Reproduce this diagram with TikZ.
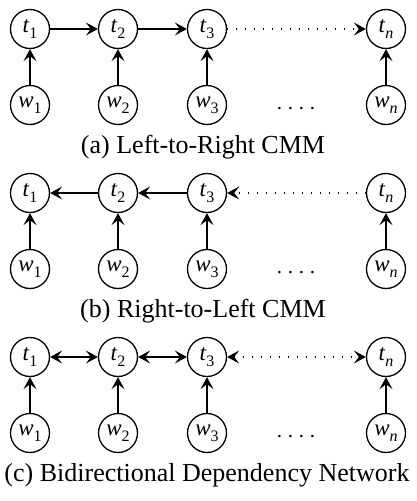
\documentclass[tikz,border=0pt]{standalone}
\usepackage{fontspec}
\setmainfont{Liberation Serif}
\usetikzlibrary{arrows.meta}
\newcommand{\vlab}[2]{\textit{#1}\raisebox{-0.25em}{\fontsize{16}{16}\selectfont #2}}
\tikzset{
  var/.style={circle, draw, line width=1.3pt, minimum size=39pt, inner sep=0pt, font=\fontsize{23}{23}\selectfont},
  tip/.style={},
  edge/.style={line width=1.3pt, -{Stealth[length=12pt,width=13pt,inset=5pt]}},
  bedge/.style={line width=1.3pt, {Stealth[length=12pt,width=13pt,inset=5pt]}-{Stealth[length=12pt,width=13pt,inset=5pt]}},
  dotline/.style={dash pattern=on 1.3pt off 7.7pt},
  caption/.style={anchor=base, font=\fontsize{26}{26}\selectfont, inner sep=0pt},
  ellip/.style={font=\fontsize{21}{21}\selectfont, inner sep=0pt}
}
\begin{document}
\begin{tikzpicture}[x=1pt,y=-1pt]
\useasboundingbox (0,0) rectangle (417,501);
% ---------- panel (a)
\node[var] (at1) at (30,29) {\vlab{t}{1}};
\node[var] (at2) at (118,29) {\vlab{t}{2}};
\node[var] (at3) at (207,29) {\vlab{t}{3}};
\node[var] (atn) at (386,29) {\vlab{t}{\textit{n}}};
\node[var] (aw1) at (30,105) {\vlab{w}{1}};
\node[var] (aw2) at (118,105) {\vlab{w}{2}};
\node[var] (aw3) at (207,105) {\vlab{w}{3}};
\node[var] (awn) at (386,105) {\vlab{w}{\textit{n}}};
\node[ellip] (adots) at (296,109) {.\hspace{5.7pt}.\hspace{5.7pt}.\hspace{5.7pt}.};
\draw[edge] (at1) -- (at2);
\draw[edge] (at2) -- (at3);
\draw[edge, dotline] (at3) -- (atn);
\foreach \i in {1,2,3,n} \draw[edge] (aw\i) -- (at\i);
\node[caption] (capa) at (203,153) {(a) Left-to-Right CMM};
% ---------- panel (b)
\node[var] (bt1) at (30,193) {\vlab{t}{1}};
\node[var] (bt2) at (118,193) {\vlab{t}{2}};
\node[var] (bt3) at (207,193) {\vlab{t}{3}};
\node[var] (btn) at (386,193) {\vlab{t}{\textit{n}}};
\node[var] (bw1) at (30,269) {\vlab{w}{1}};
\node[var] (bw2) at (118,269) {\vlab{w}{2}};
\node[var] (bw3) at (207,269) {\vlab{w}{3}};
\node[var] (bwn) at (386,269) {\vlab{w}{\textit{n}}};
\node[ellip] (bdots) at (296,273) {.\hspace{5.7pt}.\hspace{5.7pt}.\hspace{5.7pt}.};
\draw[edge] (bt2) -- (bt1);
\draw[edge] (bt3) -- (bt2);
\draw[edge, dotline] (btn) -- (bt3);
\foreach \i in {1,2,3,n} \draw[edge] (bw\i) -- (bt\i);
\node[caption] (capb) at (203,317) {(b) Right-to-Left CMM};
% ---------- panel (c)
\node[var] (ct1) at (30,357) {\vlab{t}{1}};
\node[var] (ct2) at (118,357) {\vlab{t}{2}};
\node[var] (ct3) at (207,357) {\vlab{t}{3}};
\node[var] (ctn) at (386,357) {\vlab{t}{\textit{n}}};
\node[var] (cw1) at (30,433) {\vlab{w}{1}};
\node[var] (cw2) at (118,433) {\vlab{w}{2}};
\node[var] (cw3) at (207,433) {\vlab{w}{3}};
\node[var] (cwn) at (386,433) {\vlab{w}{\textit{n}}};
\node[ellip] (cdots) at (296,437) {.\hspace{5.7pt}.\hspace{5.7pt}.\hspace{5.7pt}.};
\draw[bedge] (ct1) -- (ct2);
\draw[bedge] (ct2) -- (ct3);
\draw[bedge, dotline] (ct3) -- (ctn);
\foreach \i in {1,2,3,n} \draw[edge] (cw\i) -- (ct\i);
\node[caption] (capc) at (207,481) {(c) Bidirectional Dependency Network};
\end{tikzpicture}
\end{document}
